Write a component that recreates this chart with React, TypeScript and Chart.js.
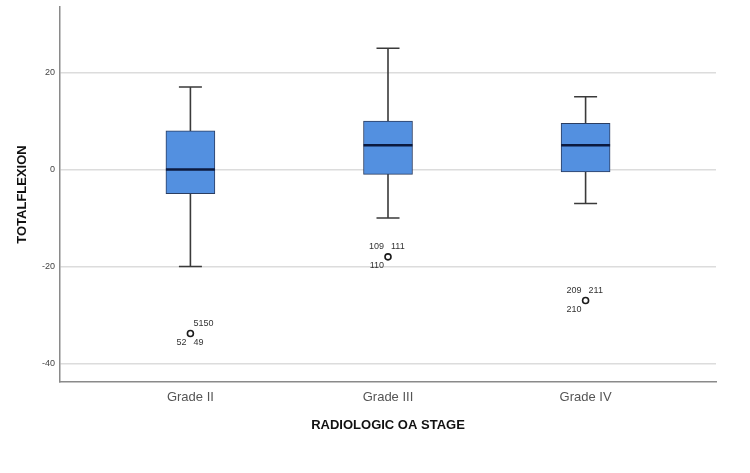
import React, { useEffect, useRef } from "react";
import { Chart, registerables } from "chart.js";

Chart.register(...registerables);

const CATEGORIES = ["Grade II", "Grade III", "Grade IV"];
const POSITIONS = [1, 2, 3];
const WHISKER_LOW = [-20, -10, -7];
const Q1 = [-5, -1, -0.5];
const MEDIAN = [0, 5, 5];
const Q3 = [8, 10, 9.5];
const WHISKER_HIGH = [17, 25, 15];
const OUTLIER_VALUES = [-33.8, -18, -27];
// labels around each outlier: [text, placement]
const OUTLIER_LABELS: [string, string][][] = [
  [["5150", "ur"], ["52", "ll"], ["49", "lr"]],
  [["109", "ul"], ["111", "ur"], ["110", "ll"]],
  [["209", "ul"], ["211", "ur"], ["210", "ll"]],
];
const Y_TICKS = [-40, -20, 0, 20];
const Y_MIN = -43.8;
const Y_MAX = 33.5;
const X_TITLE = "RADIOLOGIC OA STAGE";
const Y_TITLE = "TOTALFLEXION";

const FONT = "'Liberation Sans', Arial, sans-serif";

const boxPlugin = {
  id: "boxParts",
  beforeDatasetsDraw(chart: any) {
    const { ctx, scales } = chart;
    const xs = scales.x;
    const ys = scales.y;
    ctx.save();
    ctx.strokeStyle = "#3a3a3a";
    ctx.lineWidth = 1.6;
    POSITIONS.forEach((p, i) => {
      const x = xs.getPixelForValue(p);
      const yHi = ys.getPixelForValue(WHISKER_HIGH[i]);
      const yLo = ys.getPixelForValue(WHISKER_LOW[i]);
      ctx.beginPath();
      ctx.moveTo(x, yHi);
      ctx.lineTo(x, yLo);
      ctx.moveTo(x - 11.5, yHi);
      ctx.lineTo(x + 11.5, yHi);
      ctx.moveTo(x - 11.5, yLo);
      ctx.lineTo(x + 11.5, yLo);
      ctx.stroke();
    });
    ctx.restore();
  },
  afterDatasetsDraw(chart: any) {
    const { ctx, scales } = chart;
    const xs = scales.x;
    const ys = scales.y;
    ctx.save();
    ctx.strokeStyle = "#0c1a3e";
    ctx.lineWidth = 2.5;
    POSITIONS.forEach((p, i) => {
      const x = xs.getPixelForValue(p);
      const y = ys.getPixelForValue(MEDIAN[i]);
      ctx.beginPath();
      ctx.moveTo(x - 24.5, y);
      ctx.lineTo(x + 24.5, y);
      ctx.stroke();
    });
    ctx.font = `9px ${FONT}`;
    ctx.fillStyle = "#333";
    ctx.textBaseline = "middle";
    POSITIONS.forEach((p, i) => {
      const x = xs.getPixelForValue(p);
      const y = ys.getPixelForValue(OUTLIER_VALUES[i]);
      OUTLIER_LABELS[i].forEach(([txt, pl]) => {
        const right = pl[1] === "r";
        const up = pl[0] === "u";
        ctx.textAlign = right ? "left" : "right";
        ctx.fillText(txt, right ? x + 3 : x - 4, up ? y - 10 : y + 9);
      });
    });
    ctx.restore();
  },
};

export default function App() {
  const ref = useRef<HTMLCanvasElement>(null);
  useEffect(() => {
    document.body.style.margin = "0";
    const chart = new Chart(ref.current as HTMLCanvasElement, {
      type: "bar",
      data: {
        datasets: [
          {
            type: "bar",
            data: POSITIONS.map((p, i) => ({ x: p, y: [Q1[i], Q3[i]] })) as any,
            backgroundColor: "#5390e0",
            borderColor: "#2b3d60",
            borderWidth: 1,
            borderSkipped: false,
            barThickness: 49,
            grouped: false,
          } as any,
          {
            type: "scatter",
            data: POSITIONS.map((p, i) => ({ x: p, y: OUTLIER_VALUES[i] })),
            pointRadius: 3,
            pointBorderWidth: 1.6,
            borderColor: "#1a1a1a",
            backgroundColor: "#ffffff",
            pointBackgroundColor: "#ffffff",
            pointBorderColor: "#1a1a1a",
          } as any,
        ],
      },
      options: {
        responsive: false,
        animation: false,
        devicePixelRatio: 1,
        layout: { padding: { top: 7, right: 34, left: 0, bottom: 0 } },
        plugins: { legend: { display: false }, tooltip: { enabled: false } },
        scales: {
          x: {
            type: "linear",
            offset: false,
            min: 0.34,
            max: 3.66,
            grid: { display: false, drawTicks: false, offset: false },
            border: { display: true, color: "#8a8a8a", width: 1.5 },
            afterBuildTicks: (s: any) => {
              s.ticks = POSITIONS.map((v) => ({ value: v }));
            },
            afterFit: (s: any) => {
              s.height = 91;
              s.paddingLeft = 0;
              s.paddingRight = 0;
            },
            ticks: {
              autoSkip: false,
              maxRotation: 0,
              padding: 8,
              color: "#555",
              font: { family: FONT, size: 13 },
              callback: (v: any) => CATEGORIES[POSITIONS.indexOf(Number(v))] ?? "",
            },
            title: {
              display: true,
              text: X_TITLE,
              color: "#111",
              font: { family: FONT, size: 13, weight: "bold" },
              padding: { top: 0, bottom: 40 },
            },
          },
          y: {
            type: "linear",
            min: Y_MIN,
            max: Y_MAX,
            grid: { color: "#dcdcdc", lineWidth: 1.5, drawTicks: false },
            border: { display: true, color: "#8a8a8a", width: 1.5 },
            afterBuildTicks: (s: any) => {
              s.ticks = Y_TICKS.map((v) => ({ value: v }));
            },
            afterFit: (s: any) => {
              s.width = 60;
              s.paddingTop = 0;
              s.paddingBottom = 0;
            },
            ticks: {
              padding: 5,
              color: "#444",
              font: { family: FONT, size: 9 },
            },
            title: {
              display: true,
              text: Y_TITLE,
              color: "#111",
              font: { family: FONT, size: 13, weight: "bold" },
              padding: { top: 15, bottom: 0 },
            },
          },
        },
      },
      plugins: [boxPlugin],
    } as any);
    return () => chart.destroy();
  }, []);
  return (
    <div style={{ width: 750, height: 473, background: "#fff" }}>
      <canvas ref={ref} width={750} height={473} style={{ display: "block" }} />
    </div>
  );
}
